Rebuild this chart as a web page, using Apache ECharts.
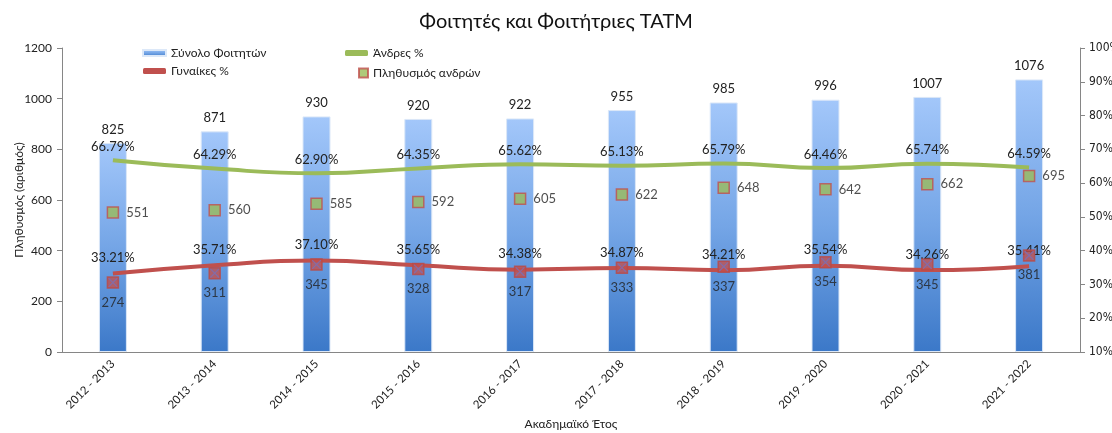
<!DOCTYPE html>
<html>
<head>
<meta charset="utf-8">
<script src="https://cdn.jsdelivr.net/npm/echarts@6/dist/echarts.min.js"></script>
<style>
  html, body { margin: 0; padding: 0; background: #fff; }
  #chart { width: 1112px; height: 433px; }
</style>
</head>
<body>
<div id="chart"></div>
<script>
const years = ['2012 - 2013', '2013 - 2014', '2014 - 2015', '2015 - 2016', '2016 - 2017',
  '2017 - 2018', '2018 - 2019', '2019 - 2020', '2020 - 2021', '2021 - 2022']
const totalStudents = [825, 871, 930, 920, 922, 955, 985, 996, 1007, 1076]
const menCount = [551, 560, 585, 592, 605, 622, 648, 642, 662, 695]
const womenCount = [274, 311, 345, 328, 317, 333, 337, 354, 345, 381]
const menPct = [66.79, 64.29, 62.90, 64.35, 65.62, 65.13, 65.79, 64.46, 65.74, 64.59]
const womenPct = [33.21, 35.71, 37.10, 35.65, 34.38, 34.87, 34.21, 35.54, 34.26, 35.41]

const font = 'Lato, "Noto Sans", sans-serif'
const narrowFont = '"Liberation Sans Narrow", "DejaVu Sans Condensed", Lato, sans-serif'
const textColor = '#222'
const axisColor = '#868686'
const legendText = { fontFamily: font, fontSize: 12, color: textColor }

const chart = echarts.init(document.getElementById('chart'))

chart.setOption({
  textStyle: { fontFamily: font },
  animation: false,
  title: {
    text: 'Φοιτητές και Φοιτήτριες ΤΑΤΜ',
    left: 'center',
    top: 7,
    textStyle: { fontFamily: font, fontSize: 20, fontWeight: 'normal', color: '#111' }
  },
  legend: [
    {
      orient: 'vertical',
      left: 137,
      top: 42,
      itemGap: 6,
      itemWidth: 23,
      itemHeight: 6,
      textStyle: legendText,
      data: [
        { name: 'Σύνολο Φοιτητών', icon: 'rect' },
        { name: 'Γυναίκες %', icon: 'roundRect', itemStyle: { color: '#C0504D' } }
      ]
    },
    {
      left: 340,
      top: 42,
      itemWidth: 23,
      itemHeight: 6,
      textStyle: legendText,
      data: [
        { name: 'Άνδρες %', icon: 'roundRect', itemStyle: { color: '#9BBB59' } }
      ]
    },
    {
      left: 353,
      top: 62,
      itemWidth: 9,
      itemHeight: 9,
      textStyle: legendText,
      data: [
        { name: 'Πληθυσμός ανδρών', icon: 'rect' }
      ]
    }
  ],
  grid: { left: 62, right: 32, top: 48, bottom: 81, outerBoundsMode: 'none' },
  xAxis: {
    type: 'category',
    data: years,
    name: 'Ακαδημαϊκό Έτος',
    nameLocation: 'middle',
    nameGap: 66,
    nameTextStyle: { fontFamily: font, fontSize: 12, color: textColor },
    axisLine: { lineStyle: { color: axisColor } },
    axisTick: { length: 5, lineStyle: { color: axisColor } },
    axisLabel: { rotate: 45, fontSize: 11.5, color: textColor, margin: 10 }
  },
  yAxis: [
    {
      type: 'value',
      min: 0,
      max: 1200,
      interval: 200,
      name: 'Πληθυσμός (αριθμός)',
      nameLocation: 'middle',
      nameGap: 37,
      nameMoveOverlap: false,
      nameTextStyle: { fontFamily: font, fontSize: 12, color: textColor },
      axisLine: { show: true, lineStyle: { color: axisColor } },
      axisTick: { show: true, length: 5, lineStyle: { color: axisColor } },
      splitLine: { show: false },
      axisLabel: { fontSize: 12, color: textColor, margin: 10, formatter: v => String(v) }
    },
    {
      type: 'value',
      min: 10,
      max: 100,
      interval: 10,
      position: 'right',
      axisLine: { show: true, lineStyle: { color: axisColor } },
      axisTick: { show: true, length: 5, lineStyle: { color: axisColor } },
      splitLine: { show: false },
      axisLabel: { fontFamily: narrowFont, fontSize: 12, color: textColor, margin: 9, formatter: '{value}%' }
    }
  ],
  series: [
    {
      name: 'Σύνολο Φοιτητών',
      type: 'bar',
      data: totalStudents,
      barWidth: 28,
      itemStyle: {
        color: new echarts.graphic.LinearGradient(0, 0, 0, 1, [
          { offset: 0, color: '#A3C7FA' },
          { offset: 0.5, color: '#74A5E6' },
          { offset: 1, color: '#3B78C8' }
        ]),
        borderColor: '#DCE8F8',
        borderWidth: 1
      },
      label: { show: true, position: 'top', distance: 7, fontSize: 13, color: textColor }
    },
    {
      name: 'Άνδρες %',
      type: 'line',
      yAxisIndex: 1,
      smooth: true,
      data: menPct,
      symbol: 'circle',
      symbolSize: 0,
      lineStyle: { color: '#9BBB59', width: 4 },
      itemStyle: { color: '#9BBB59' },
      label: { show: true, position: 'top', distance: 7, fontSize: 13, color: textColor,
        formatter: p => p.value.toFixed(2) + '%' },
      z: 3
    },
    {
      name: 'Γυναίκες %',
      type: 'line',
      yAxisIndex: 1,
      smooth: true,
      data: womenPct,
      symbol: 'circle',
      symbolSize: 0,
      lineStyle: { color: '#C0504D', width: 4 },
      itemStyle: { color: '#C0504D' },
      label: { show: true, position: 'top', distance: 9, fontSize: 13, color: textColor,
        formatter: p => p.value.toFixed(2) + '%' },
      z: 3
    },
    {
      name: 'Πληθυσμός ανδρών',
      type: 'scatter',
      data: menCount,
      symbol: 'rect',
      symbolSize: 11,
      itemStyle: { color: '#9BBB59', borderColor: '#C0504D', borderWidth: 1.5 },
      label: { show: true, position: 'right', distance: 7, fontSize: 13, color: textColor },
      z: 4
    },
    {
      name: 'Πληθυσμός γυναικών',
      type: 'scatter',
      data: womenCount,
      symbol: 'rect',
      symbolSize: 11,
      itemStyle: { color: '#C0504D', borderColor: '#B94A47', borderWidth: 1.5 },
      label: { show: true, position: 'bottom', distance: 7, fontSize: 13, color: textColor },
      z: 4
    },
    {
      name: 'Πληθυσμός γυναικών x',
      type: 'scatter',
      data: womenCount,
      symbol: 'path://M0,0L1,0L10,9L10,10L9,10L0,1Z M10,0L10,1L1,10L0,10L0,9L9,0Z',
      symbolSize: 9,
      itemStyle: { color: '#7B6FB5', opacity: 0.8 },
      silent: true,
      z: 5
    }
  ]
})
</script>
</body>
</html>
